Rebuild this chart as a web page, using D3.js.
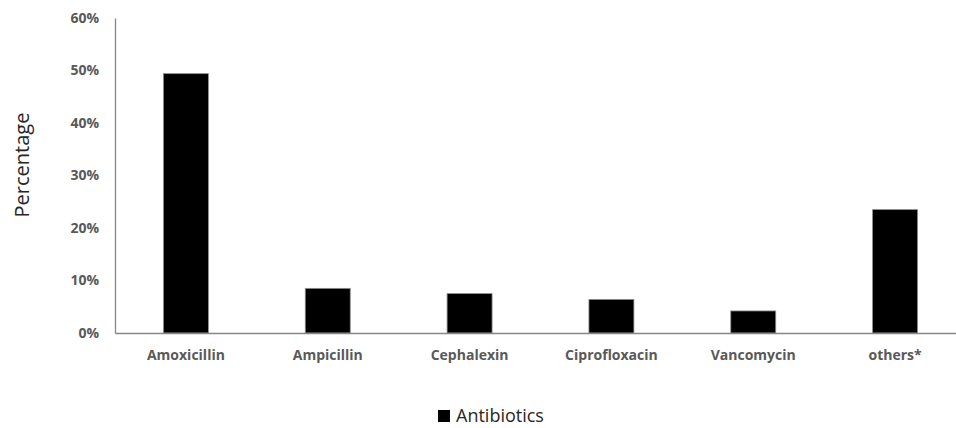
<!DOCTYPE html>
<html><head><meta charset="utf-8">
<script src="https://cdn.jsdelivr.net/npm/d3@7"></script>
<style>body{margin:0;background:#fff}svg{display:block}</style>
</head><body>
<svg id="c" width="956" height="428"></svg>
<script>
const categories = ["Amoxicillin","Ampicillin","Cephalexin","Ciprofloxacin","Vancomycin","others*"];
const values = [49.4, 8.5, 7.5, 6.4, 4.2, 23.5];
const yTicks = [0,10,20,30,40,50,60];
const seriesName = "Antibiotics";

const svg = d3.select("#c");
const x = d3.scaleBand().domain(categories).range([115, 966]).paddingInner(0.683).paddingOuter(0.3415);
const y = d3.scaleLinear().domain([0,60]).range([333, 18]);

// bars
svg.append("g").selectAll("rect").data(values).join("rect")
  .attr("x",(d,i)=>x(categories[i])).attr("width",x.bandwidth())
  .attr("y",d=>y(d)).attr("height",d=>y(0)-y(d))
  .attr("fill","#000").attr("stroke","#8c8c8c").attr("stroke-width",0.8);

// y axis
const ya = svg.append("g").attr("transform","translate(115,0)")
  .call(d3.axisLeft(y).tickValues(yTicks).tickFormat(d=>d+"%").tickSize(0).tickPadding(16));
ya.select(".domain").attr("stroke","#868686").attr("stroke-width",1.3);
ya.selectAll("text").attr("font-family","'Open Sans', sans-serif").attr("font-weight","bold")
  .attr("font-size",14).attr("fill","#595959");

// x axis
const xa = svg.append("g").attr("transform","translate(0,333)")
  .call(d3.axisBottom(x).tickSize(0).tickPadding(17));
xa.select(".domain").attr("stroke","#868686").attr("stroke-width",1.3);
xa.selectAll("text").attr("font-family","'Open Sans', sans-serif").attr("font-weight","bold")
  .attr("font-size",14).attr("fill","#595959");

// y title
svg.append("text").attr("transform","translate(29,165) rotate(-90)").attr("text-anchor","middle")
  .attr("font-family","'Open Sans', sans-serif").attr("font-size",20).attr("fill","#262626").text("Percentage");

// legend
svg.append("rect").attr("x",438).attr("y",410).attr("width",12).attr("height",12).attr("fill","#000");
svg.append("text").attr("x",456).attr("y",422).attr("font-family","'Open Sans', sans-serif")
  .attr("font-size",18).attr("fill","#262626").text(seriesName);
</script>
</body></html>
